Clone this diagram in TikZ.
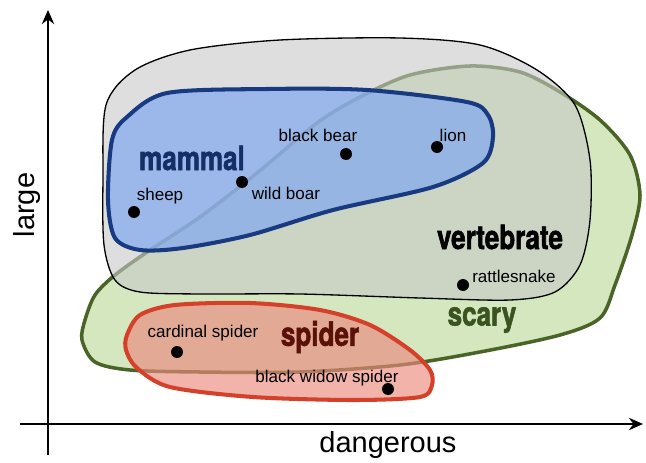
\documentclass[tikz,border=0pt]{standalone}
\usepackage{fontspec}
\setmainfont{Liberation Sans}
\newfontfamily\heavyfont[FakeStretch=0.78,BoldFeatures={FakeBold=1.6}]{TeX Gyre Heros}
\usetikzlibrary{arrows.meta}
\definecolor{scaryFill}{HTML}{D4E7BE}
\definecolor{scaryLine}{HTML}{4A6427}
\definecolor{scaryText}{HTML}{3A5320}
\definecolor{vertFill}{HTML}{C8C8C8}
\definecolor{mammalFill}{HTML}{81A8EF}
\definecolor{mammalLine}{HTML}{173A80}
\definecolor{mammalText}{HTML}{142F66}
\definecolor{spiderFill}{HTML}{EB8A7E}
\definecolor{spiderLine}{HTML}{D4402A}
\definecolor{spiderText}{HTML}{5A1208}

\begin{document}
\begin{tikzpicture}[x=0.02cm,y=-0.02cm,
  dot/.style={circle,fill=black,inner sep=0pt,minimum size=0.24cm},
  lbl/.style={font=\fontsize{9.7}{11}\selectfont,inner sep=0pt},
  setname/.style={font=\heavyfont\bfseries\fontsize{19}{21}\selectfont,inner sep=0pt},
  axlbl/.style={font=\fontsize{16.5}{18}\selectfont,inner sep=0pt},
  axis/.style={line width=1.7pt,-{Stealth[length=8pt,width=7pt]}}]
\useasboundingbox (0,0) rectangle (646,463);
% mengen
\draw[scaryLine,line width=2pt,fill=scaryFill] plot[smooth cycle] coordinates {
  (85,320) (95,295) (115,275) (150,250) (200,217) (257,173) (317,123) (360,97)
  (410,75) (470,66) (520,72) (560,92) (600,120) (630,155) (640,195) (632,235)
  (615,285) (600,318) (560,335) (480,352) (400,365) (300,372) (200,372) (130,370)
  (95,362) (82,340)};
\fill[vertFill,opacity=0.6] plot[smooth cycle] coordinates {
  (103,180) (106,105) (135,70) (190,50) (280,40) (400,38) (480,45) (537,70)
  (575,105) (590,160) (590,220) (580,265) (555,292) (510,300) (420,298) (300,294)
  (200,294) (140,292) (115,280) (104,245)};
\draw[black,line width=0.75pt] plot[smooth cycle] coordinates {
  (103,180) (106,105) (135,70) (190,50) (280,40) (400,38) (480,45) (537,70)
  (575,105) (590,160) (590,220) (580,265) (555,292) (510,300) (420,298) (300,294)
  (200,294) (140,292) (115,280) (104,245)};
\fill[mammalFill,opacity=0.7] plot[smooth cycle] coordinates {
  (108,200) (112,140) (127,117) (167,93) (267,89) (367,90) (467,102) (488,115)
  (493,137) (483,163) (433,187) (333,210) (250,235) (183,248) (140,250) (115,238)};
\draw[mammalLine,line width=2.3pt] plot[smooth cycle] coordinates {
  (108,200) (112,140) (127,117) (167,93) (267,89) (367,90) (467,102) (488,115)
  (493,137) (483,163) (433,187) (333,210) (250,235) (183,248) (140,250) (115,238)};
\fill[spiderFill,opacity=0.65] plot[smooth cycle] coordinates {
  (127,335) (140,315) (175,305) (250,303) (320,310) (370,325) (410,350) (430,370)
  (432,385) (420,397) (353,400) (253,397) (170,387) (137,368) (126,350)};
\draw[spiderLine,line width=2.3pt] plot[smooth cycle] coordinates {
  (127,335) (140,315) (175,305) (250,303) (320,310) (370,325) (410,350) (430,370)
  (432,385) (420,397) (353,400) (253,397) (170,387) (137,368) (126,350)};
% namen der mengen
\node[setname,mammalText] (mammal) at (192,158) {mammal};
\node[setname,black] (vertebrate) at (500,237) {vertebrate};
\node[setname,scaryText] (scary) at (482,320) {scary};
\node[setname,spiderText] (spider) at (320,337) {spider};
% tiere
\node[dot] (sheep) at (134,212) {};
\node[lbl] (sheepLbl) at (160,196) {sheep};
\node[dot] (boar) at (242,182) {};
\node[lbl] (boarLbl) at (286,193) {wild boar};
\node[dot] (bear) at (346,154) {};
\node[lbl] (bearLbl) at (318,135) {black bear};
\node[dot] (lion) at (437,147) {};
\node[lbl] (lionLbl) at (453,135) {lion};
\node[dot] (snake) at (463,285) {};
\node[lbl] (snakeLbl) at (514,276) {rattlesnake};
\node[dot] (cardinal) at (177,352) {};
\node[lbl] (cardinalLbl) at (203,333) {cardinal spider};
\node[dot] (widow) at (388,389) {};
\node[lbl] (widowLbl) at (327,378) {black widow spider};
% achsen
\coordinate (yFoot) at (48,455);
\coordinate (yTip) at (48,10);
\coordinate (xFoot) at (20,424);
\coordinate (xTip) at (643,424);
\draw[axis] (yFoot) -- (yTip);
\draw[axis] (xFoot) -- (xTip);
\node[axlbl,rotate=90] (large) at (27,205) {large};
\node[axlbl] (dangerous) at (388,445) {dangerous};
\end{tikzpicture}
\end{document}
